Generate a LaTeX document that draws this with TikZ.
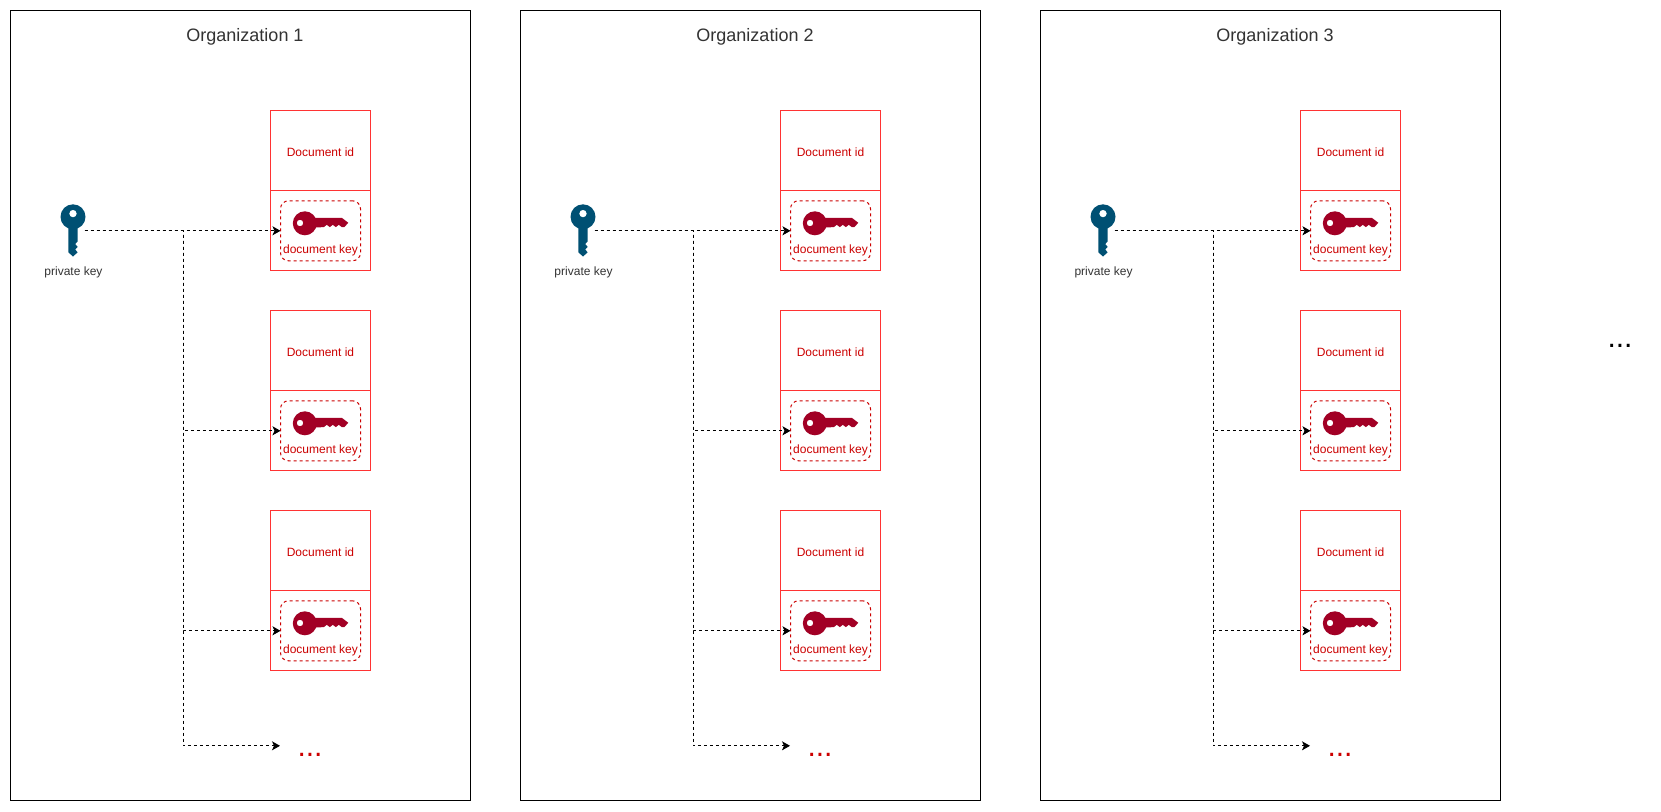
\documentclass[tikz,border=0pt]{standalone}
\usepackage{fontspec}
\setmainfont{Liberation Sans}
\usetikzlibrary{arrows.meta,calc}
\definecolor{boxred}{HTML}{FF3333}
\definecolor{txtred}{HTML}{CC0000}
\definecolor{keyred}{HTML}{A20025}
\definecolor{keyblue}{HTML}{005073}
\definecolor{txtgray}{HTML}{333333}
\newcommand{\fs}[1]{\fontsize{#1}{#1}\selectfont}
\tikzset{
  orgbox/.style={draw=black,line width=1pt,minimum width=460pt,minimum height=790pt,inner sep=0pt,outer sep=0pt},
  orgtitle/.style={font=\fs{18},text=txtgray,inner sep=0pt,anchor=base},
  idbox/.style={draw=boxred,line width=1pt,minimum width=100pt,minimum height=80pt,inner sep=0pt,outer sep=0pt,text=txtred,font=\fs{12},text height=11pt,text depth=0pt},
  keybox/.style={draw=boxred,line width=1pt,minimum width=100pt,minimum height=80pt,inner sep=0pt,outer sep=0pt},
  dockey/.style={draw=txtred,dash pattern=on 3pt off 3pt,line width=1pt,rounded corners=8pt,minimum width=80pt,minimum height=60pt,inner sep=0pt,outer sep=0pt},
  keylabel/.style={text=txtred,font=\fs{12},inner sep=0pt,anchor=base},
  pklabel/.style={text=txtgray,font=\fs{12},inner sep=0pt,anchor=base},
  pkarea/.style={minimum width=25pt,minimum height=53pt,inner sep=0pt,outer sep=0pt},
  conn/.style={draw=black,line width=1pt,dash pattern=on 3pt off 3pt,-{Stealth[length=8pt,width=9pt,inset=2pt]}},
  dots/.style={inner sep=0pt,anchor=base,font=\fs{30}}
}
\begin{document}
\begin{tikzpicture}[x=1pt,y=-1pt]
\useasboundingbox (0,0) rectangle (1661,811);
\fill[white] (0,0) rectangle (1661,811);
\foreach \o/\n in {0/1,510/2,1030/3}{
\begin{scope}[shift={(\o,0.3)}]
  \node[orgbox] (org\n) at (240.5,405.5) {};
  \node[orgtitle] (title\n) at (245,41) {Organization \n};
  % private key
  \node[pkarea] (pk\n) at (72.3,230.5) {};
  \fill[keyblue,even odd rule,shift={(73,216.5)}]
    (0,0) circle[radius=12.5] (0,-3.2) circle[radius=3.8];
  \fill[keyblue,shift={(73,216.5)}]
    (-4.7,8) -- (-4.7,35.5) -- (0,39.7) -- (4.7,35.5) -- (2.2,32.8) -- (4.7,30) -- (2.2,27.3) -- (4.7,24.5) -- (4.7,8) -- cycle;
  \node[pklabel] (pklab\n) at (73.5,275) {private key};
  \coordinate (jn\n) at (183,230.5);
  \foreach \d [count=\i] in {0,200,400}{
    \node[idbox] (id\n-\i) at (320.5,150.5+\d) {Document id};
    \node[keybox] (kb\n-\i) at (320.5,230.5+\d) {};
    \node[dockey] (dk\n-\i) at (320.5,230.5+\d) {};
    \fill[keyred,even odd rule,shift={(304.8,223+\d)}]
      (0,0) circle[radius=12] (-4.8,-0.3) circle[radius=3.3];
    \fill[keyred,shift={(304.8,223+\d)}]
      (9,-5.5) -- (37,-5.5) -- (43.5,-0.5) -- (39.5,3.8) -- (37,3.8) -- (34,1.5) -- (31,3.8) -- (28,1.5) -- (25,3.8) -- (22,1.5) -- (19,3.8) -- (9,4.3) -- cycle;
    \node[keylabel] (kl\n-\i) at (320.5,253+\d) {document key};
    \draw[conn] (pk\n.east) -- (jn\n) |- (dk\n-\i.west);
  }
  \coordinate (more\n) at (280,745.5);
  \draw[conn] (pk\n.east) -- (jn\n) |- (more\n);
  \node[dots,text=txtred] (dots\n) at (310,756) {...};
\end{scope}
}
\node[dots,text=black] (dotsall) at (1620,347) {...};
\end{tikzpicture}
\end{document}
